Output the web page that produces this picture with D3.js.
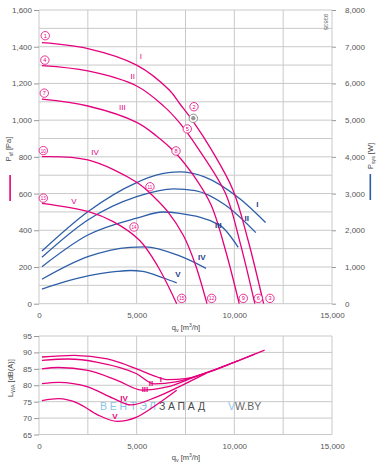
<!DOCTYPE html>
<html><head><meta charset="utf-8">
<script src="https://cdn.jsdelivr.net/npm/d3@7"></script>
<style>body{margin:0;background:#fff}svg{display:block;font-family:"Liberation Sans",Arial,sans-serif}</style>
</head><body><svg id="c" width="385" height="465"></svg>
<script>
// ---------- DATA ----------
const qTicks = [0, 5000, 10000, 15000];
const qGrid = [0, 2500, 5000, 7500, 10000, 12500, 15000];
const pTicks = [0, 200, 400, 600, 800, 1000, 1200, 1400, 1600];
const pGrid = [0,100,200,300,400,500,600,700,800,900,1000,1100,1200,1300,1400,1500,1600];
const wTicks = [0, 1000, 2000, 3000, 4000, 5000, 6000, 7000, 8000];
const dbTicks = [65, 70, 75, 80, 85, 90, 95];
const curveNames = ["I", "II", "III", "IV", "V"];

// static pressure [q m3/h, Pa]
const pressI   = [[150,1422],[2500,1390],[5000,1300],[6670,1164],[7220,1088],[7880,995],[8840,837],[9930,620],[10700,347],[11500,0]];
const pressII  = [[150,1297],[2500,1268],[5000,1186],[6400,1075],[7200,985],[8150,845],[9550,600],[10300,330],[11050,0]];
const pressIII = [[150,1114],[2500,1077],[5000,988],[6000,915],[7000,820],[7900,700],[8800,540],[9550,290],[10250,0]];
const pressIV  = [[150,801],[2500,783],[5000,662],[5900,580],[6600,500],[7400,370],[8000,215],[8600,0]];
const pressV   = [[150,547],[2500,503],[3800,447],[5170,343],[6100,200],[7050,0]];

// power consumption [q, W]
const powI   = [[150,1435],[2500,2506],[5000,3300],[6000,3500],[7200,3590],[8500,3450],[10300,2850],[11600,2210]];
const powII  = [[150,1264],[2500,2280],[5000,2915],[6900,3130],[8000,3080],[9500,2700],[11100,1935]];
const powIII = [[150,1008],[2500,1871],[5000,2330],[6350,2498],[7200,2460],[9250,2140],[10200,1536]];
const powIV  = [[150,665],[2500,1280],[4660,1536],[5430,1550],[7200,1300],[8550,964]];
const powV   = [[150,400],[2500,755],[4000,880],[4700,905],[5300,880],[6365,700],[7050,570]];

// sound power [q, dB(A)]
const sndI   = [[150,88.6],[1800,89.1],[3500,88.0],[5000,85.0],[6000,82.6],[6600,81.7],[7500,82.0],[8500,83.6],[10000,87.0],[11550,90.7]];
const sndII  = [[150,87.6],[1500,88.0],[3000,87.0],[5000,83.5],[5900,80.4],[7000,81.0],[8500,83.6],[10000,87.0],[11050,89.5]];
const sndIII = [[150,85.0],[1000,85.4],[2500,84.5],[4000,81.5],[5300,78.5],[6500,79.4],[8000,82.6],[9000,84.8],[10200,87.5]];
const sndIV  = [[150,80.5],[1000,80.9],[2500,79.5],[3800,76.0],[4700,74.0],[6000,76.4],[7500,80.5],[8550,83.6]];
const sndV   = [[150,75.3],[1000,75.9],[2000,74.5],[3000,71.0],[4000,69.0],[5000,70.3],[6000,74.0],[7050,78.5]];

// circled point markers [label, q, Pa, grey?]
const markers = [["1",320,1460],["4",300,1327],["7",270,1147],["10",220,834],["13",220,575],
  ["2",7935,1073],["",7900,1010,1],["5",7590,952],["8",7013,832],["11",5680,637],["14",4863,418],
  ["15",7305,29],["12",8840,29],["9",10458,29],["6",11226,29],["3",11825,29]];
// label anchors
const pressLabels = [[5221,1346],[4796,1237],[4264,1070],[2867,828],[1792,556]];
const powLabels   = [[11175,2707],[10633,2326],[9179,2144],[8329,1280],[7116,801]];
const sndLabels   = [[6245,81.8],[5733,80.5],[5426,78.7],[4351,76.0],[3890,70.6]];

// ---------- DRAW ----------
const MAG = "#e5007d", BLUE = "#2d5ea8", NAVY = "#1f3d8a", GRID = "#c9c9c9", TXT = "#555";
const svg = d3.select("#c");
const x = d3.scaleLinear().domain([0, 15000]).range([39, 332]);
const yP = d3.scaleLinear().domain([0, 1600]).range([303.7, 10]);
const yW = d3.scaleLinear().domain([0, 8000]).range([303.7, 10]);
const yL = d3.scaleLinear().domain([65, 95]).range([434.5, 336]);
const fmt = d3.format(",");

function grid(ys, yScale, top, bottom) {
  const g = svg.append("g").attr("stroke", GRID).attr("stroke-width", 1).attr("fill", "none");
  ys.forEach(v => g.append("line").attr("x1", x(0)).attr("x2", x(15000)).attr("y1", yScale(v)).attr("y2", yScale(v)));
  qGrid.forEach(v => g.append("line").attr("x1", x(v)).attr("x2", x(v)).attr("y1", top).attr("y2", bottom));
}
grid(pGrid, yP, yP(1600), yP(0));
grid(dbTicks, yL, yL(95), yL(65));

function styleAxis(g) {
  g.select(".domain").remove();
  g.selectAll(".tick line").attr("stroke", "#999");
  g.selectAll("text").attr("fill", TXT).attr("font-size", 8);
}
svg.append("g").attr("transform", `translate(${x(0)},0)`)
  .call(d3.axisLeft(yP).tickValues(pTicks).tickFormat(fmt).tickSize(5).tickPadding(2)).call(styleAxis);
svg.append("g").attr("transform", `translate(${x(15000)},0)`)
  .call(d3.axisRight(yW).tickValues(wTicks).tickFormat(fmt).tickSize(4).tickPadding(9)).call(styleAxis);
svg.append("g").attr("transform", `translate(0,${yP(0)})`)
  .call(d3.axisBottom(x).tickValues(qTicks).tickFormat(fmt).tickSize(0).tickPadding(9)).call(styleAxis);
svg.append("g").attr("transform", `translate(${x(0)},0)`)
  .call(d3.axisLeft(yL).tickValues(dbTicks).tickFormat(fmt).tickSize(5).tickPadding(2)).call(styleAxis);
svg.append("g").attr("transform", `translate(0,${yL(65)})`)
  .call(d3.axisBottom(x).tickValues(qTicks).tickFormat(fmt).tickSize(0).tickPadding(9)).call(styleAxis);

// watermark
svg.append("text").attr("x", 100).attr("y", 410).attr("font-size", 10.5).attr("fill", "#8cc3ea")
  .attr("textLength", 56).attr("lengthAdjust", "spacing").text("ВЕНТЭЛ");
svg.append("text").attr("x", 159).attr("y", 410).attr("font-size", 10.5).attr("fill", "#4a4a4a")
  .attr("textLength", 46).attr("lengthAdjust", "spacing").text("ЗАПАД");
const wm2 = svg.append("text").attr("x", 228).attr("y", 410).attr("font-size", 10.5);
wm2.append("tspan").attr("fill", "#8cc3ea").text("V");
wm2.append("tspan").attr("fill", "#666").text("W.BY");

// curves
const cv = d3.curveCatmullRom.alpha(0.5);
const lp = d3.line().x(d => x(d[0])).y(d => yP(d[1])).curve(cv);
const lw = d3.line().x(d => x(d[0])).y(d => yW(d[1])).curve(d3.curveMonotoneX);
const ll = d3.line().x(d => x(d[0])).y(d => yL(d[1])).curve(d3.curveMonotoneX);
[powI, powII, powIII, powIV, powV].forEach(s => svg.append("path").attr("d", lw(s)).attr("fill", "none").attr("stroke", BLUE).attr("stroke-width", 1.3));
[pressI, pressII, pressIII, pressIV, pressV].forEach(s => svg.append("path").attr("d", lp(s)).attr("fill", "none").attr("stroke", MAG).attr("stroke-width", 1.3));
[sndV, sndIV, sndIII, sndII, sndI].forEach(s => svg.append("path").attr("d", ll(s)).attr("fill", "none").attr("stroke", MAG).attr("stroke-width", 1.3));

// markers
markers.forEach(m => {
  const g = svg.append("g").attr("transform", `translate(${x(m[1])},${yP(m[2])})`);
  const c = m[3] ? "#777" : MAG;
  g.append("circle").attr("r", 4.2).attr("fill", "#fff").attr("stroke", c).attr("stroke-width", 0.8);
  if (m[3]) g.append("circle").attr("r", 2.2).attr("fill", "#999");
  g.append("text").attr("text-anchor", "middle").attr("dy", 1.9).attr("font-size", m[0].length > 1 ? 4.6 : 5.6).attr("fill", c).text(m[0]);
});

// series labels
curveNames.forEach((n, i) => {
  svg.append("text").attr("x", x(pressLabels[i][0])).attr("y", yP(pressLabels[i][1]) + 2.8).attr("text-anchor", "middle")
    .attr("font-size", 8).attr("fill", MAG).text(n);
  svg.append("text").attr("x", x(powLabels[i][0])).attr("y", yW(powLabels[i][1]) + 2.8).attr("text-anchor", "middle")
    .attr("font-size", 8).attr("font-weight", "bold").attr("fill", NAVY).text(n);
  svg.append("text").attr("x", x(sndLabels[i][0])).attr("y", yL(sndLabels[i][1]) + 2.8).attr("text-anchor", "middle")
    .attr("font-size", 8).attr("font-weight", "bold").attr("fill", MAG).text(n);
});

// axis titles
function title(tx, ty, rot, main, sub, rest, size) {
  const t = svg.append("text").attr("transform", `translate(${tx},${ty}) rotate(${rot})`).attr("text-anchor", "middle")
    .attr("font-size", size).attr("fill", "#444");
  t.append("tspan").text(main);
  t.append("tspan").attr("font-size", size * 0.7).attr("dy", 2).text(sub);
  t.append("tspan").attr("dy", -2).html(rest);
}
title(11, 149, -90, "P", "sf", " [Pa]", 7.5);
title(373, 156, -90, "P", "sys", " [W]", 7.5);
title(13, 378, -90, "L", "WA", " [dB(A)]", 7.5);
title(186, 330, 0, "q", "v", " [m<tspan font-size='5' dy='-3'>3</tspan><tspan dy='3'>/h]</tspan>", 7.5);
title(186, 460, 0, "q", "v", " [m<tspan font-size='5' dy='-3'>3</tspan><tspan dy='3'>/h]</tspan>", 7.5);
svg.append("rect").attr("x", 9.3).attr("y", 175).attr("width", 1.6).attr("height", 26).attr("fill", MAG);
svg.append("rect").attr("x", 369.5).attr("y", 174).attr("width", 1.6).attr("height", 26).attr("fill", BLUE);
svg.append("text").attr("transform", "translate(324,22) rotate(90)").attr("text-anchor", "middle")
  .attr("font-size", 6).attr("fill", "#666").text("93835");
</script></body></html>
